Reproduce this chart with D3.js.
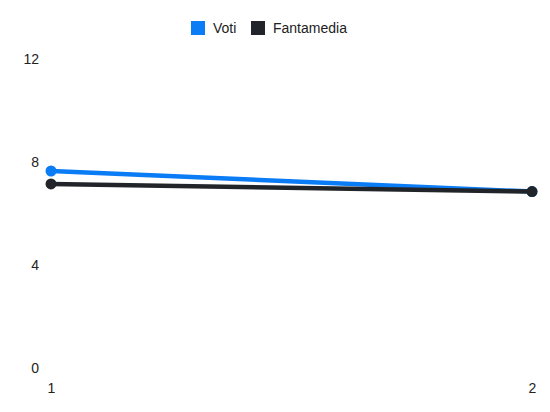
<!DOCTYPE html>
<html>
<head>
<meta charset="utf-8">
<script src="https://cdn.jsdelivr.net/npm/d3@7"></script>
<style>
  body { margin: 0; background: #fff; }
  svg { display: block; font-family: "Liberation Sans", Arial, sans-serif; }
</style>
</head>
<body>
<svg id="chart"></svg>
<script>
// chart data
const giornate = [1, 2];
const voti = [7.65, 6.85];
const fantamedia = [7.15, 6.85];
const yTicks = [0, 4, 8, 12];
const seriesNames = ["Voti", "Fantamedia"];
const seriesColors = ["#0a7cf5", "#212529"];

const width = 550, height = 412;
const svg = d3.select("#chart")
    .attr("width", width)
    .attr("height", height);

const x = d3.scaleLinear()
    .domain([1, 2])
    .range([51, 532]);

const y = d3.scaleLinear()
    .domain([0, 12])
    .range([368, 59]);

// Y axis labels (no lines)
svg.append("g")
    .attr("transform", "translate(39,0)")
    .call(d3.axisLeft(y).tickValues(yTicks).tickSize(0).tickPadding(0))
    .call(g => g.select(".domain").remove())
    .call(g => g.selectAll("text")
        .attr("font-size", 14)
        .attr("font-family", "Liberation Sans, Arial, sans-serif")
        .attr("fill", "#222"));

// X axis labels
svg.append("g")
    .attr("transform", "translate(0,383)")
    .call(d3.axisBottom(x).tickValues(giornate).tickFormat(d3.format("d")).tickSize(0).tickPadding(0))
    .call(g => g.select(".domain").remove())
    .call(g => g.selectAll("text")
        .attr("font-size", 14)
        .attr("font-family", "Liberation Sans, Arial, sans-serif")
        .attr("fill", "#222"));

const series = [voti, fantamedia];
const line = d3.line()
    .x((d, i) => x(giornate[i]))
    .y(d => y(d));

series.forEach((vals, s) => {
    svg.append("path")
        .datum(vals)
        .attr("fill", "none")
        .attr("stroke", seriesColors[s])
        .attr("stroke-width", 4.5)
        .attr("d", line);
    svg.append("g")
        .selectAll("circle")
        .data(vals)
        .join("circle")
        .attr("cx", (d, i) => x(giornate[i]))
        .attr("cy", d => y(d))
        .attr("r", 5.5)
        .attr("fill", seriesColors[s]);
});

// Legend
const legendX = [191, 251];
const legend = svg.append("g");
seriesNames.forEach((name, i) => {
    legend.append("rect")
        .attr("x", legendX[i])
        .attr("y", 21)
        .attr("width", 14)
        .attr("height", 14)
        .attr("fill", seriesColors[i]);
    legend.append("text")
        .attr("x", legendX[i] + 22)
        .attr("y", 28)
        .attr("dy", "0.35em")
        .attr("font-size", 14)
        .attr("fill", "#222")
        .text(name);
});
</script>
</body>
</html>
